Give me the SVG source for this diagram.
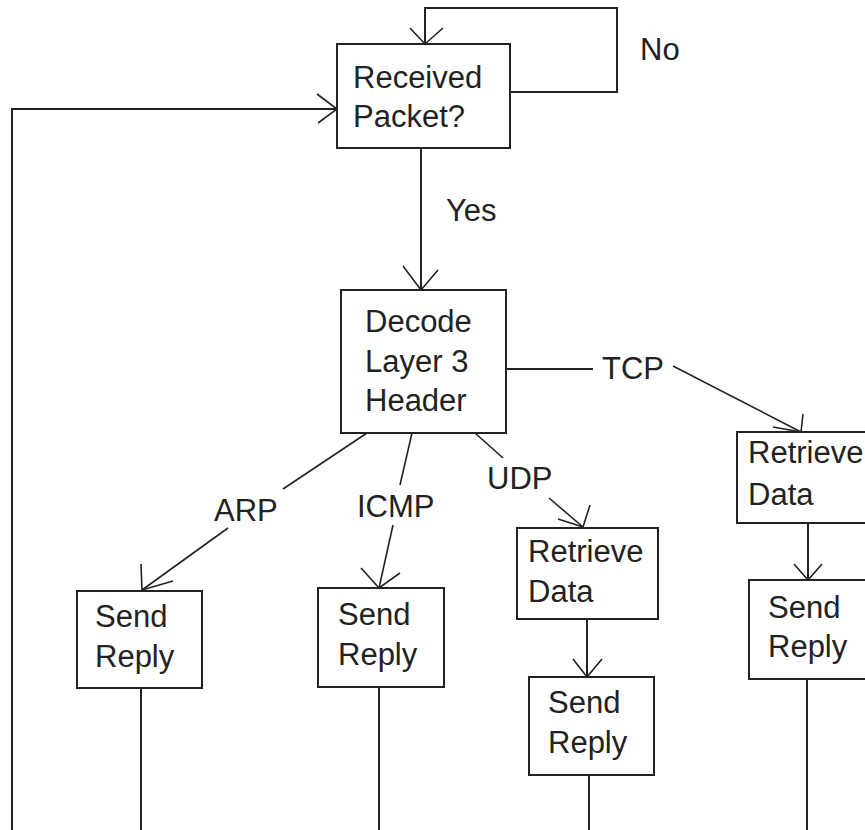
<svg xmlns="http://www.w3.org/2000/svg" width="865" height="830" viewBox="0 0 865 830">
<style>
.box{fill:#fff;stroke:#222;stroke-width:2}
.t{font-family:"Liberation Sans",Arial,sans-serif;font-size:31px;fill:#222}
.ln{fill:none;stroke:#222;stroke-width:2}
.dg{fill:none;stroke:#222;stroke-width:1.6}
.ah{fill:none;stroke:#222;stroke-width:1.6}
</style>
<rect width="865" height="830" fill="#fff"/>
<g id="connectors">
  <!-- No loop -->
  <polyline class="ln" points="510,92 617,92 617,8 425,8 425,44"/>
  <polyline class="ah" points="410,28 425,44 443,28"/>
  <!-- feedback loop from left -->
  <polyline class="ln" points="12,830 12,109 337,109"/>
  <polyline class="ah" points="317,94 337,109 318,123"/>
  <!-- Yes -->
  <line class="ln" x1="421" y1="148" x2="421" y2="290"/>
  <polyline class="ah" points="403,266 421,290 438,270"/>
  <!-- TCP -->
  <line class="ln" x1="506" y1="369" x2="593" y2="369"/>
  <line class="dg" x1="673" y1="366" x2="801" y2="432"/>
  <polyline class="ah" points="803,414 801,432 773,427"/>
  <!-- ARP -->
  <line class="dg" x1="367" y1="433" x2="283" y2="489"/>
  <line class="dg" x1="228" y1="528" x2="142" y2="590"/>
  <polyline class="ah" points="141,564 142,590 173,581"/>
  <!-- ICMP -->
  <line class="dg" x1="412" y1="433" x2="400" y2="485"/>
  <line class="dg" x1="393" y1="525" x2="379" y2="588"/>
  <polyline class="ah" points="361,568 379,588 400,573"/>
  <!-- UDP -->
  <line class="dg" x1="475" y1="433" x2="503" y2="458"/>
  <line class="dg" x1="549" y1="498" x2="583" y2="527"/>
  <polyline class="ah" points="590,505 583,527 558,519"/>
  <!-- Retrieve -> Send (UDP) -->
  <line class="ln" x1="587" y1="619" x2="587" y2="677"/>
  <polyline class="ah" points="573,659 587,677 602,659"/>
  <!-- Retrieve -> Send (TCP) -->
  <line class="ln" x1="808" y1="523" x2="808" y2="580"/>
  <polyline class="ah" points="794,564 808,580 822,564"/>
  <!-- outputs down to bottom -->
  <line class="ln" x1="141" y1="688" x2="141" y2="830"/>
  <line class="ln" x1="379" y1="687" x2="379" y2="830"/>
  <line class="ln" x1="589" y1="775" x2="589" y2="830"/>
  <line class="ln" x1="807" y1="679" x2="807" y2="830"/>
  <!-- labels -->
  <text class="t" x="640" y="60">No</text>
  <text class="t" x="446" y="221">Yes</text>
  <text class="t" x="602" y="379">TCP</text>
  <text class="t" x="214" y="521">ARP</text>
  <text class="t" x="357" y="517">ICMP</text>
  <text class="t" x="487" y="489">UDP</text>
</g>
<g id="received">
  <rect class="box" x="337" y="44" width="173" height="104"/>
  <text class="t" x="353" y="88">Received</text>
  <text class="t" x="353" y="127">Packet?</text>
</g>
<g id="decode">
  <rect class="box" x="341" y="290" width="165" height="143"/>
  <text class="t" x="365" y="332">Decode</text>
  <text class="t" x="365" y="372">Layer 3</text>
  <text class="t" x="365" y="411">Header</text>
</g>
<g id="arp-reply">
  <rect class="box" x="77" y="591" width="125" height="97"/>
  <text class="t" x="95" y="627">Send</text>
  <text class="t" x="95" y="667">Reply</text>
</g>
<g id="icmp-reply">
  <rect class="box" x="318" y="588" width="126" height="99"/>
  <text class="t" x="338" y="625">Send</text>
  <text class="t" x="338" y="665">Reply</text>
</g>
<g id="udp-retrieve">
  <rect class="box" x="517" y="528" width="141" height="91"/>
  <text class="t" x="528" y="562">Retrieve</text>
  <text class="t" x="528" y="602">Data</text>
</g>
<g id="udp-reply">
  <rect class="box" x="529" y="677" width="125" height="98"/>
  <text class="t" x="548" y="713">Send</text>
  <text class="t" x="548" y="753">Reply</text>
</g>
<g id="tcp-retrieve">
  <rect class="box" x="737" y="432" width="150" height="91"/>
  <text class="t" x="748" y="463">Retrieve</text>
  <text class="t" x="748" y="505">Data</text>
</g>
<g id="tcp-reply">
  <rect class="box" x="749" y="580" width="140" height="99"/>
  <text class="t" x="768" y="618">Send</text>
  <text class="t" x="768" y="657">Reply</text>
</g>
</svg>
